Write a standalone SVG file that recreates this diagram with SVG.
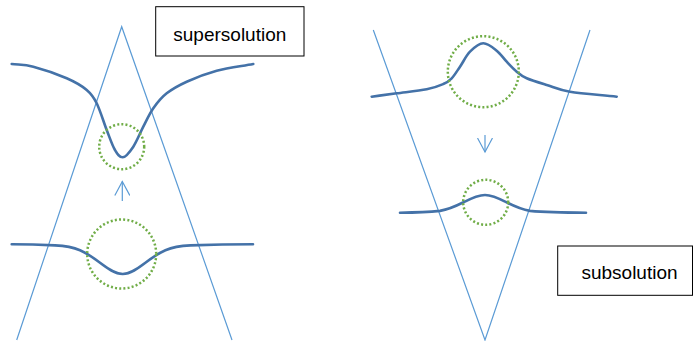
<svg xmlns="http://www.w3.org/2000/svg" width="693" height="341" viewBox="0 0 693 341">
<style>
.tri{fill:none;stroke:#5B9BD5;stroke-width:1.2}
.curve{fill:none;stroke:#4472A8;stroke-width:2.6;stroke-linecap:round}
.dot{fill:none;stroke:#70AD47;stroke-width:2.5;stroke-dasharray:2 2.2}
.box{fill:#fff;stroke:#000;stroke-width:1}
.lbl{font-family:"Liberation Sans",Arial,sans-serif;font-size:19px;fill:#000;text-anchor:middle}
.arr{fill:none;stroke:#5B9BD5;stroke-width:1.2}
</style>
<defs>
<marker id="ah" markerUnits="userSpaceOnUse" markerWidth="16" markerHeight="16" viewBox="0 0 16 16" refX="14" refY="8" orient="auto">
<path d="M0,0.5 L14,8 L0,15.5" fill="none" stroke="#5B9BD5" stroke-width="1.2"/>
</marker>
</defs>
<rect width="693" height="341" fill="#fff"/>
<g id="triangle-left"><path class="tri" d="M16.7,340 L121.7,26.7 L232,340"/></g>
<g id="triangle-right"><path class="tri" d="M373.3,30 L485,340 L590,30"/></g>
<g id="curve-super-top"><path class="curve" d="M11.7,64 C18.9,64.9 24.1,64.3 33.3,66.7 C42.5,69.1 57.8,74.4 66.7,78.3 C75.6,82.2 81.7,85.8 86.7,90 C91.7,94.2 93.4,96.6 96.7,103.3 C100,110 103.7,122.2 106.7,130 C109.8,137.8 112.3,145.5 115,150 C117.7,154.6 119.2,157.3 122.7,157.3 C126.2,157.3 129.9,151.8 133.3,146.7 C136.7,141.6 140,133.1 143.3,126.7 C146.6,120.3 149.4,113.9 153.3,108.3 C157.2,102.7 161.1,97.7 166.7,93.3 C172.3,88.9 178.4,85.5 186.7,81.7 C195,77.9 205.6,73.7 216.7,70.7 C227.8,67.8 241.1,66.2 253.3,64"/></g>
<g id="circle-super-top"><circle class="dot" cx="121.7" cy="146.7" r="22.5"/></g>
<g id="curve-super-bottom"><path class="curve" d="M11.7,244.3 C26.1,244.3 40.6,244.7 55,245.4 C63.3,245.8 71.7,246.7 80,250.2 C86.7,253 93.3,257.7 100,262.8 C107.6,268.6 115.1,274 122.7,274 C130.3,274 137.8,268.6 145.4,262.8 C152.1,257.7 158.7,253 165.4,250.2 C173.7,246.7 182.1,245.8 190.4,245.4 C211,244.7 232,244.3 253,244.3"/></g>
<g id="circle-super-bottom"><circle class="dot" cx="121.7" cy="254" r="34.5"/></g>
<g id="curve-sub-top"><path class="curve" d="M371.7,96.7 C380,95.6 387.5,94.5 396.7,93.3 C405.9,92.1 418.9,90.9 426.7,89.3 C434.5,87.8 439.1,85.8 443.3,84 C447.5,82.2 448.9,81.2 451.7,78.3 C454.5,75.4 457,71.1 460,66.7 C463.1,62.3 466.1,55.6 470,51.7 C473.9,47.8 478.8,43.3 483.3,43.3 C487.8,43.3 492.8,47.6 496.7,50.7 C500.6,53.8 503.4,58.2 506.7,61.7 C510,65.2 513.4,68.9 516.7,71.7 C520,74.5 521.7,76.1 526.7,78.3 C531.7,80.5 539.5,82.8 546.7,85 C553.9,87.2 558.3,89.8 570,91.7 C581.7,93.7 601.1,95 616.7,96.7"/></g>
<g id="circle-sub-top"><circle class="dot" cx="483.3" cy="71.7" r="35.5"/></g>
<g id="curve-sub-bottom"><path class="curve" d="M400,212.7 C415,212.6 428,212.2 440,210.9 C447.7,209.5 455.3,206.4 463,202.5 C470.3,198.8 477.7,195 485,195 C492.3,195 499.7,198.8 507,202.5 C514.7,206.4 522.3,209.5 530,210.9 C545,212.2 565,212.6 586,212.7"/></g>
<g id="circle-sub-bottom"><circle class="dot" cx="485.7" cy="202.3" r="22.5"/></g>
<g id="label-super"><rect class="box" x="155.7" y="6.7" width="148.3" height="49.3"/><text class="lbl" x="229.8" y="41">supersolution</text></g>
<g id="label-sub"><rect class="box" x="557.7" y="246" width="134.8" height="49.3"/><text class="lbl" x="629.5" y="278.5">subsolution</text></g>
<g id="connectors">
<path class="arr" d="M122.3,201 L122.3,181.5" marker-end="url(#ah)"/>
<path class="arr" d="M485,135 L485,152" marker-end="url(#ah)"/>
</g>
</svg>
